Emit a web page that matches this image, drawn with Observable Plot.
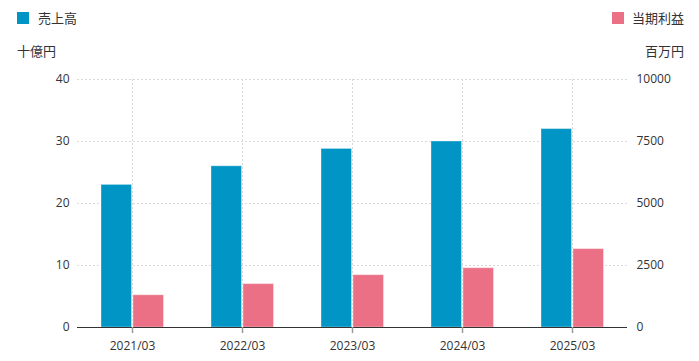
<!DOCTYPE html>
<html>
<head>
<meta charset="utf-8">
<script src="https://cdn.jsdelivr.net/npm/d3@7"></script>
<script src="https://cdn.jsdelivr.net/npm/@observablehq/plot@0.6"></script>
<style>
  html, body { margin: 0; padding: 0; background: #fff; }
  #wrap { position: relative; width: 699px; height: 361px; font-family: "Open Sans", "Noto Sans CJK JP", sans-serif; color: #333; }
  .lg { position: absolute; font-size: 13px; line-height: 13px; font-family: "Noto Sans CJK JP", sans-serif; color: #333; white-space: nowrap; }
  .sw { position: absolute; width: 12px; height: 12px; }
  #chart { position: absolute; left: 0; top: 0; }
</style>
</head>
<body>
<div id="wrap">
  <div id="chart"></div>
</div>
<script>
const categories = ["2021/03", "2022/03", "2023/03", "2024/03", "2025/03"];
const salesName = "売上高";
const profitName = "当期利益";
const salesUnit = "十億円";
const profitUnit = "百万円";
const sales = [23.0, 26.0, 28.8, 30.0, 32.0];       // 十億円 (left axis)
const profit = [1300, 1750, 2110, 2390, 3160];      // 百万円 (right axis)
const leftTicks = [0, 10, 20, 30, 40];
const rightTicks = [0, 2500, 5000, 7500, 10000];
const salesColor = "#0095c4";
const profitColor = "#eb7086";

const ratio = rightTicks[rightTicks.length - 1] / leftTicks[leftTicks.length - 1];
const salesData = categories.map((c, i) => ({cat: c, v: sales[i]}));
const profitData = categories.map((c, i) => ({cat: c, v: profit[i] / ratio}));

const chart = Plot.plot({
  width: 699,
  height: 361,
  marginLeft: 77,
  marginRight: 72,
  marginTop: 79,
  marginBottom: 34,
  style: {fontFamily: "'Open Sans', 'Noto Sans CJK JP', sans-serif", fontSize: "12px", color: "#333", background: "#fff"},
  x: {domain: categories, padding: 0, label: null},
  y: {domain: [0, 40], label: null},
  marks: [
    Plot.gridY(leftTicks.slice(1), {stroke: "#d9d9d9", strokeOpacity: 1, strokeDasharray: "2,2"}),
    Plot.gridX(categories, {stroke: "#d9d9d9", strokeOpacity: 1, strokeDasharray: "2,2"}),
    Plot.barY(salesData, {x: "cat", y: "v", fill: salesColor, insetLeft: 24, insetRight: 55.5, stroke: "#fff", strokeOpacity: 0.35, strokeWidth: 1}),
    Plot.barY(profitData, {x: "cat", y: "v", fill: profitColor, insetLeft: 56, insetRight: 23.5, stroke: "#fff", strokeOpacity: 0.35, strokeWidth: 1}),
    Plot.ruleY([0], {stroke: "#333", strokeWidth: 1.2}),
    Plot.axisX({tickSize: 6, tickPadding: 8, stroke: "#999", strokeWidth: 1.5, fill: "#333", label: null}),
    Plot.axisY({anchor: "left", ticks: leftTicks, tickSize: 0, tickPadding: 8, fill: "#333", label: null}),
    Plot.axisY({anchor: "right", ticks: leftTicks, tickSize: 0, tickPadding: 9, fill: "#333", label: null,
      tickFormat: (d) => String(rightTicks[leftTicks.indexOf(d)])})
  ]
});
document.getElementById("chart").appendChild(chart);

const wrap = document.getElementById("wrap");
function add(cls, css, text) {
  const el = document.createElement("div");
  el.className = cls;
  Object.assign(el.style, css);
  if (text) el.textContent = text;
  wrap.appendChild(el);
}
add("sw", {left: "17px", top: "12px", background: salesColor});
add("lg", {left: "38px", top: "11px"}, salesName);
add("sw", {left: "612px", top: "12px", background: profitColor});
add("lg", {right: "15px", top: "11px"}, profitName);
add("lg", {left: "17px", top: "44px"}, salesUnit);
add("lg", {right: "15px", top: "44px"}, profitUnit);
</script>
</body>
</html>
